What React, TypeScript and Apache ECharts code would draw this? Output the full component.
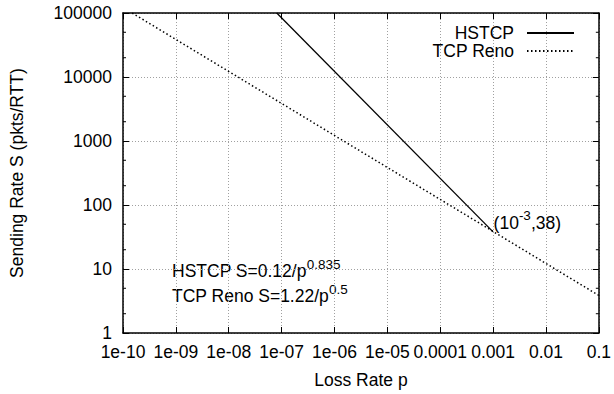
import React, { useEffect, useRef } from "react";
import * as echarts from "echarts";

// Axis ranges
const xMin = 1e-10;
const xMax = 0.1;
const yMin = 1;
const yMax = 100000;

// Tick values and labels
const xTickValues = [1e-10, 1e-9, 1e-8, 1e-7, 1e-6, 1e-5, 1e-4, 1e-3, 1e-2, 1e-1];
const xTickLabels = ["1e-10", "1e-09", "1e-08", "1e-07", "1e-06", "1e-05", "0.0001", "0.001", "0.01", "0.1"];
const yTickValues = [1, 10, 100, 1000, 10000, 100000];
const yTickLabels = ["1", "10", "100", "1000", "10000", "100000"];
const yMinorTicks = [2, 5, 20, 50, 200, 500, 2000, 5000, 20000, 50000];

// Series (loss rate p, sending rate S)
const hstcpP = [8.1e-8, 0.001];
const hstcpS = [100000, 38];
const renoP = [1.49e-10, 0.1];
const renoS = [100000, 3.86];

const seriesNames = ["HSTCP", "TCP Reno"];

const FONT = "Liberation Sans";

function labelFor(values: number[], labels: string[], v: number) {
  const i = values.findIndex((t) => Math.abs(Math.log10(t) - Math.log10(v)) < 1e-6);
  return i >= 0 ? labels[i] : "";
}

export default function App() {
  const ref = useRef<HTMLDivElement>(null);
  useEffect(() => {
    if (!ref.current) return;
    const chart = echarts.init(ref.current, null, { renderer: "svg" });
    const axisLine = { show: true, lineStyle: { color: "#000", width: 1.5 } };
    const splitLine = { show: true, lineStyle: { color: "#a0a0a0", width: 1, type: [1, 2] as any } };
    const textBase = { fontFamily: FONT, fontSize: 17.5, color: "#000" };
    const rich = {
      n: { fontFamily: FONT, fontSize: 17.5, color: "#000" },
      s: { fontFamily: FONT, fontSize: 13.5, color: "#000", padding: [0, 0, 14, 0] },
    };
    chart.setOption({
      animation: false,
      backgroundColor: "#fff",
      grid: { left: 119, right: 13, top: 13, bottom: 57, containLabel: false },
      legend: {
        data: seriesNames,
        orient: "vertical",
        right: 34,
        top: 19,
        align: "right",
        itemWidth: 47,
        itemHeight: 14,
        itemGap: 0,
        itemStyle: { opacity: 0 },
        textStyle: { ...textBase, lineHeight: 17, padding: [0, 8, 0, 0] },
      },
      xAxis: [
        {
          type: "log",
          logBase: 10,
          min: xMin,
          max: xMax,
          splitNumber: 9,
          position: "bottom",
          name: "Loss Rate p",
          nameLocation: "middle",
          nameGap: 38,
          nameTextStyle: textBase,
          axisLine,
          axisTick: { show: true, inside: true, length: 6, lineStyle: { color: "#000" } },
          axisLabel: {
            ...textBase,
            margin: 10,
            formatter: (v: number) => labelFor(xTickValues, xTickLabels, v),
          },
          splitLine,
        },
        {
          type: "log",
          logBase: 10,
          min: xMin,
          max: xMax,
          splitNumber: 9,
          position: "top",
          axisLine,
          axisTick: { show: true, inside: true, length: 6, lineStyle: { color: "#000" } },
          axisLabel: { show: false },
          splitLine: { show: false },
        },
      ],
      yAxis: [
        {
          type: "log",
          logBase: 10,
          min: yMin,
          max: yMax,
          splitNumber: 5,
          position: "left",
          name: "Sending Rate S (pkts/RTT)",
          nameLocation: "middle",
          nameGap: 97,
          nameTextStyle: textBase,
          axisLine,
          axisTick: { show: true, inside: true, length: 6, lineStyle: { color: "#000" } },
          axisLabel: {
            ...textBase,
            margin: 11,
            formatter: (v: number) => labelFor(yTickValues, yTickLabels, v),
          },
          splitLine,
        },
        {
          type: "log",
          logBase: 10,
          min: yMin,
          max: yMax,
          splitNumber: 5,
          position: "right",
          axisLine,
          axisTick: { show: true, inside: true, length: 6, lineStyle: { color: "#000" } },
          axisLabel: { show: false },
          splitLine: { show: false },
        },
      ],
      graphic: [
        {
          type: "text",
          left: 172,
          top: 257,
          style: {
            text: "{n|HSTCP S=0.12/p}{s|0.835}",
            rich,
          },
        },
        {
          type: "text",
          left: 172,
          top: 282,
          style: {
            text: "{n|TCP Reno S=1.22/p}{s|0.5}",
            rich,
          },
        },
      ],
      series: [
        {
          name: seriesNames[0],
          type: "line",
          xAxisIndex: 0,
          yAxisIndex: 0,
          data: hstcpP.map((p, i) => [p, hstcpS[i]]),
          symbol: "none",
          lineStyle: { color: "#000", width: 1.3, type: "solid" },
          itemStyle: { color: "#000" },
          markPoint: {
            symbol: "circle",
            symbolSize: 1,
            itemStyle: { color: "rgba(0,0,0,0)" },
            data: [{ coord: [hstcpP[1], hstcpS[1]] }],
            label: {
              show: true,
              position: "right",
              distance: 0,
              offset: [0, -9],
              formatter: "{n|(10}{s|-3}{n|,38)}",
              rich,
            },
          },
        },
        {
          name: seriesNames[1],
          type: "line",
          xAxisIndex: 0,
          yAxisIndex: 0,
          data: renoP.map((p, i) => [p, renoS[i]]),
          symbol: "none",
          lineStyle: { color: "#000", width: 1.5, type: [1.5, 2.5] },
          itemStyle: { color: "#000" },
        },
        {
          type: "custom",
          xAxisIndex: 0,
          yAxisIndex: 0,
          silent: true,
          clip: false,
          data: yMinorTicks.map((v) => [xMin, v]),
          renderItem: (params: any, api: any) => {
            const v = api.value(1);
            const l = api.coord([xMin, v]);
            const r = api.coord([xMax, v]);
            const style = { stroke: "#000", lineWidth: 1 };
            return {
              type: "group",
              children: [
                { type: "line", shape: { x1: l[0], y1: l[1], x2: l[0] + 3, y2: l[1] }, style },
                { type: "line", shape: { x1: r[0] - 3, y1: r[1], x2: r[0], y2: r[1] }, style },
              ],
            };
          },
        },
      ],
    });
    return () => chart.dispose();
  }, []);
  return <div ref={ref} style={{ width: 614, height: 394, position: "absolute", left: 0, top: 0 }} />;
}
